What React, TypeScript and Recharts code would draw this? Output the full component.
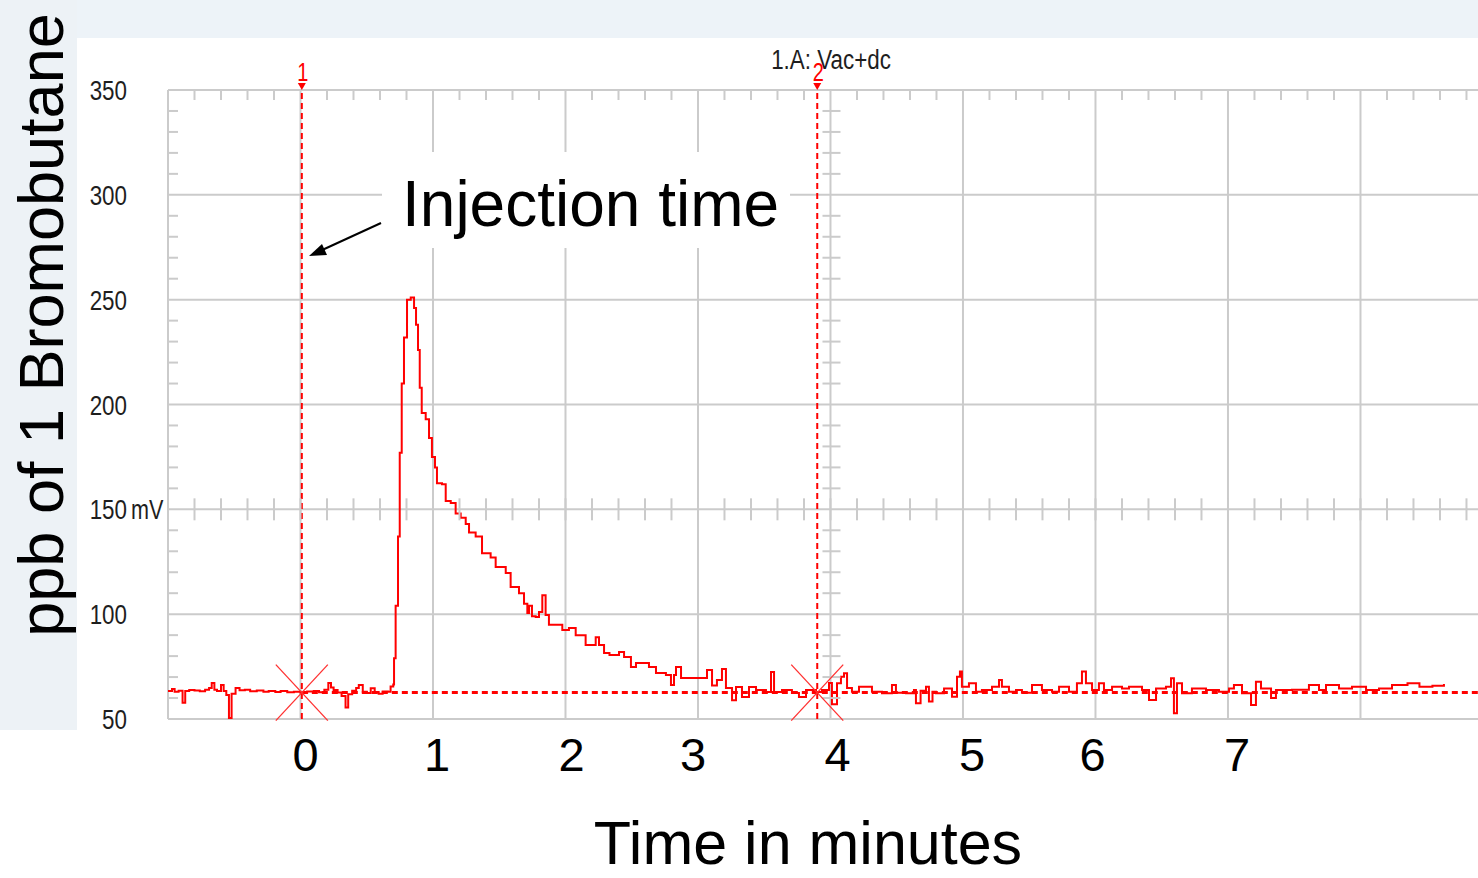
import React from 'react'
import { LineChart, Line, XAxis, YAxis, CartesianGrid, ReferenceLine, ReferenceDot } from 'recharts'

// detector trace as [minutes, mV]
const preInjection: [number, number][] = [
  [-1.0, 63.4], [-0.97, 64.3], [-0.95, 63.0], [-0.92, 63.5], [-0.89, 57.8], [-0.87, 63.4],
  [-0.84, 63.8], [-0.8, 63.6], [-0.76, 63.2], [-0.72, 63.9], [-0.69, 64.8], [-0.67, 67.2],
  [-0.65, 64.0], [-0.63, 63.4], [-0.6, 66.2], [-0.58, 63.3], [-0.56, 61.4], [-0.54, 50.5],
  [-0.52, 62.0], [-0.49, 64.8], [-0.46, 63.7], [-0.42, 63.9], [-0.38, 63.2], [-0.33, 63.6],
  [-0.28, 63.0], [-0.24, 63.4], [-0.19, 62.9], [-0.15, 63.3], [-0.1, 62.7], [-0.05, 63.0],
  [0.0, 62.5], [0.05, 63.1], [0.1, 63.3], [0.14, 62.8], [0.18, 64.0], [0.21, 67.2],
  [0.23, 65.0], [0.25, 63.8], [0.28, 62.6], [0.31, 61.0], [0.34, 55.5], [0.36, 61.8],
  [0.39, 63.5], [0.42, 64.8], [0.44, 66.2], [0.47, 63.0], [0.5, 62.4], [0.53, 64.7],
  [0.56, 62.9], [0.59, 62.0], [0.62, 63.1], [0.66, 63.0], [0.68, 65.5],
]

const peakRise: [number, number][] = [
  [0.7, 66.5], [0.706, 79], [0.718, 104], [0.736, 137], [0.749, 177], [0.764, 210],
  [0.781, 232], [0.804, 250], [0.832, 251], [0.857, 246], [0.872, 238], [0.887, 226],
  [0.9, 208], [0.915, 196], [0.945, 193], [0.97, 184], [0.992, 175], [1.015, 170],
  [1.03, 162.5], [1.068, 162], [1.096, 154], [1.134, 153], [1.171, 148], [1.209, 146],
  [1.247, 143], [1.272, 139], [1.322, 137], [1.37, 129], [1.435, 127], [1.473, 122.5],
  [1.549, 119.6], [1.586, 113], [1.649, 110], [1.687, 105],
]

const decayTail: [number, number][] = [
  [1.712, 100.5], [1.725, 104], [1.747, 99], [1.775, 98.6], [1.8, 101], [1.825, 109],
  [1.85, 99.6], [1.875, 95], [1.976, 92.5], [2.026, 93.4], [2.077, 90], [2.152, 85.3],
  [2.228, 89], [2.253, 85.3], [2.291, 81.5], [2.332, 80.5], [2.404, 82], [2.442, 79.6],
  [2.494, 74.8], [2.532, 76.7], [2.63, 74.8], [2.683, 71.9], [2.758, 71], [2.796, 66.2],
  [2.819, 71], [2.834, 74.8], [2.872, 69.5], [2.985, 69.5], [3.045, 69.5], [3.068, 73.4],
  [3.106, 66], [3.143, 68.6], [3.181, 73.8], [3.211, 64.8], [3.257, 59], [3.287, 65.3],
  [3.332, 60.5], [3.385, 65.3], [3.438, 63.8], [3.513, 62.9], [3.551, 72.4], [3.574, 62.9],
  [3.634, 63.8], [3.709, 62.4], [3.762, 60.5], [3.815, 63.8], [3.891, 62.9], [3.936, 63.8],
  [3.989, 67.2], [4.011, 57], [4.049, 67], [4.079, 70.2], [4.102, 71.8], [4.125, 64.8],
]

const postRun: [number, number][] = [
  [4.162, 63.0], [4.215, 65.4], [4.313, 63.0], [4.389, 62.3], [4.464, 66.2], [4.494, 62.5],
  [4.57, 62.3], [4.63, 63.8], [4.645, 57.5], [4.68, 63.5], [4.721, 65.4], [4.743, 58.3],
  [4.77, 63.0], [4.796, 62.3], [4.857, 64.6], [4.917, 60.6], [4.955, 70.2], [4.977, 72.6],
  [4.992, 65.4], [5.045, 67.0], [5.098, 63.0], [5.143, 63.8], [5.219, 65.4], [5.272, 68.6],
  [5.294, 65.4], [5.347, 63.0], [5.4, 63.8], [5.445, 62.5], [5.521, 66.2], [5.596, 63.8],
  [5.672, 63.0], [5.725, 65.4], [5.8, 63.0], [5.86, 67.0], [5.898, 72.6], [5.928, 67.0],
  [5.974, 63.8], [6.026, 67.0], [6.064, 63.8], [6.125, 65.4], [6.2, 64.6], [6.253, 65.4],
  [6.351, 63.8], [6.404, 59.1], [6.457, 64.6], [6.532, 65.4], [6.57, 69.4], [6.592, 52.7],
  [6.615, 67.0], [6.653, 62.3], [6.728, 64.6], [6.834, 63.8], [6.932, 63.0], [7.008, 64.6],
  [7.045, 66.2], [7.106, 62.3], [7.174, 56.7], [7.211, 67.8], [7.249, 64.6], [7.325, 60.0],
  [7.362, 63.8], [7.483, 64.0], [7.611, 66.2], [7.687, 63.8], [7.74, 66.2], [7.838, 64.6],
  [7.936, 65.4], [8.042, 63.8], [8.14, 64.6], [8.238, 66.2], [8.355, 67.0], [8.445, 65.4],
  [8.543, 65.8], [8.63, 66.7],
]

const mvTicks = [50, 100, 150, 200, 250, 300, 350]
const minuteLabels = [0, 1, 2, 3, 4, 5, 6, 7]
const gridMinutes = [-1, 0, 1, 2, 3, 4, 5, 6, 7, 8]
const markers = [
  { name: '1', minute: 0.01 },
  { name: '2', minute: 3.9 },
]
const baselineMv = 62.6
const xDomain: [number, number] = [-1, 8.887]
const innerAxisMinute = 4
const innerAxisMv = 150

// minor tick positions (every 0.2 min / 10 mV)
const minorMinutes = Array.from({ length: 49 }, (_, i) => Math.round((-0.8 + i * 0.2) * 10) / 10)
const minorMv = Array.from({ length: 29 }, (_, i) => 60 + i * 10).filter(v => v % 50 !== 0)

const trace = [...preInjection, ...peakRise, ...decayTail, ...postRun].map(([minute, mV]) => ({ minute, mV }))

const GRID = '#cbcbcb'
const RED = '#ff0000'
const SANS = "'Liberation Sans', Arial, sans-serif"
// no narrow font installed, squeeze the regular one instead
const SQUEEZE = 0.8

function Narrow({ x, y, anchor = 'start', size, fill = '#1e1e1e', children }: any) {
  return (
    <g transform={`translate(${x},${y}) scale(${SQUEEZE},1)`}>
      <text x={0} y={0} textAnchor={anchor} fontFamily={SANS} fontSize={size} fill={fill}>
        {children}
      </text>
    </g>
  )
}

// hand-placed slide labels sit a few px off the grid
const labelNudge: Record<number, number> = { 0: 5, 1: 4, 2: 6, 3: -5, 4: 7, 5: 9, 6: -3, 7: 9 }

function MvTick({ x, y, payload }: any) {
  return (
    <g>
      <Narrow x={x} y={y + 10} anchor="end" size={28}>{payload.value}</Narrow>
      {payload.value === innerAxisMv && <Narrow x={x + 4} y={y + 10} size={27}>mV</Narrow>}
    </g>
  )
}

function MinuteTick({ x, y, payload }: any) {
  return (
    <text x={x + (labelNudge[payload.value] ?? 0)} y={y} dy="0.71em" textAnchor="middle" fontFamily={SANS} fontSize={47} fill="#000">
      {payload.value}
    </text>
  )
}

export default function App() {
  return (
    <div style={{ position: 'absolute', left: 0, top: 0, width: 1478, height: 878, overflow: 'hidden', background: '#fff' }}>
      <svg width={1478} height={878} style={{ position: 'absolute', left: 0, top: 0 }}>
        <rect x={0} y={0} width={1478} height={38} fill="#edf3f8" />
        <rect x={0} y={0} width={77} height={730} fill="#edf2f6" />
      </svg>

      <div style={{ position: 'absolute', left: 0, top: 0 }}>
        <LineChart width={1478} height={878} data={trace} margin={{ top: 90, right: 0, bottom: 99, left: 78 }}>
          <CartesianGrid
            stroke={GRID}
            strokeWidth={2}
            horizontalValues={mvTicks}
            verticalValues={gridMinutes}
          />
          <XAxis
            dataKey="minute"
            type="number"
            domain={xDomain}
            allowDataOverflow
            ticks={minuteLabels}
            interval={0}
            height={60}
            axisLine={false}
            tickLine={false}
            tickSize={0}
            tickMargin={19}
            tick={<MinuteTick />}
          />
          <YAxis
            type="number"
            domain={[50, 350]}
            ticks={mvTicks}
            interval={0}
            width={90}
            axisLine={false}
            tickLine={false}
            tickSize={0}
            tickMargin={41}
            tick={<MvTick />}
          />

          {/* minor ticks along top and left edges */}
          {minorMinutes.filter(m => !Number.isInteger(m)).map(m => (
            <ReferenceDot key={`top${m}`} x={m} y={350} ifOverflow="visible"
              shape={(p: any) => <line x1={p.cx} x2={p.cx} y1={p.cy} y2={p.cy + 10} stroke={GRID} strokeWidth={2} />} />
          ))}
          {minorMv.map(v => (
            <ReferenceDot key={`left${v}`} x={xDomain[0]} y={v} ifOverflow="visible"
              shape={(p: any) => <line x1={p.cx} x2={p.cx + 10} y1={p.cy} y2={p.cy} stroke={GRID} strokeWidth={2} />} />
          ))}
          {/* the inner axes crossing at 150 mV and 4 min */}
          {minorMinutes.map(m => (
            <ReferenceDot key={`mid${m}`} x={m} y={innerAxisMv} ifOverflow="visible"
              shape={(p: any) => <line x1={p.cx} x2={p.cx} y1={p.cy - 11} y2={p.cy + 11} stroke={GRID} strokeWidth={2} />} />
          ))}
          {minorMv.map(v => (
            <ReferenceDot key={`inner${v}`} x={innerAxisMinute} y={v} ifOverflow="visible"
              shape={(p: any) => <line x1={p.cx - 8} x2={p.cx + 10} y1={p.cy} y2={p.cy} stroke={GRID} strokeWidth={2} />} />
          ))}

          {markers.map(mk => (
            <ReferenceLine key={`ml${mk.name}`} x={mk.minute} stroke={RED} strokeWidth={2} strokeDasharray="6 4" />
          ))}

          <Line
            type="stepAfter"
            dataKey="mV"
            stroke={RED}
            strokeWidth={2}
            dot={false}
            isAnimationActive={false}
          />

          <ReferenceLine
            segment={[{ x: markers[0].minute, y: baselineMv }, { x: xDomain[1], y: baselineMv }]}
            stroke={RED}
            strokeWidth={3}
            strokeDasharray="6 4"
          />

          {markers.map(mk => (
            <ReferenceDot key={`mx${mk.name}`} x={mk.minute} y={baselineMv} ifOverflow="visible"
              shape={(p: any) => (
                <g stroke="#ff3030" strokeWidth={1.3}>
                  <line x1={p.cx - 26} y1={p.cy - 28} x2={p.cx + 26} y2={p.cy + 28} />
                  <line x1={p.cx - 26} y1={p.cy + 28} x2={p.cx + 26} y2={p.cy - 28} />
                </g>
              )} />
          ))}
          {markers.map(mk => (
            <ReferenceDot key={`mt${mk.name}`} x={mk.minute} y={350} ifOverflow="visible"
              shape={(p: any) => (
                <g>
                  <polygon points={`${p.cx - 4},${p.cy - 7} ${p.cx + 4},${p.cy - 7} ${p.cx},${p.cy}`} fill={RED} />
                  <Narrow x={p.cx + 1} y={p.cy - 9} anchor="middle" size={25} fill={RED}>{mk.name}</Narrow>
                </g>
              )} />
          ))}
        </LineChart>
      </div>

      <svg width={1478} height={878} style={{ position: 'absolute', left: 0, top: 0, pointerEvents: 'none' }}>
        <Narrow x={831} y={69} anchor="middle" size={28}>1.A: Vac+dc</Narrow>

        <rect x={382} y={152} width={408} height={96} fill="#fff" />
        <text x={402} y={226} fontFamily={SANS} fontSize={64} fill="#000">Injection time</text>
        <line x1={381} y1={223} x2={320} y2={251} stroke="#000" strokeWidth={2} />
        <polygon points="309,256 322,244 327,255" fill="#000" />

        <text transform="translate(63,325) rotate(-90)" textAnchor="middle" fontFamily={SANS} fontSize={63} fill="#000">
          ppb of 1 Bromobutane
        </text>
        <text x={808} y={864} textAnchor="middle" fontFamily={SANS} fontSize={61} fill="#000">Time in minutes</text>
      </svg>
    </div>
  )
}
